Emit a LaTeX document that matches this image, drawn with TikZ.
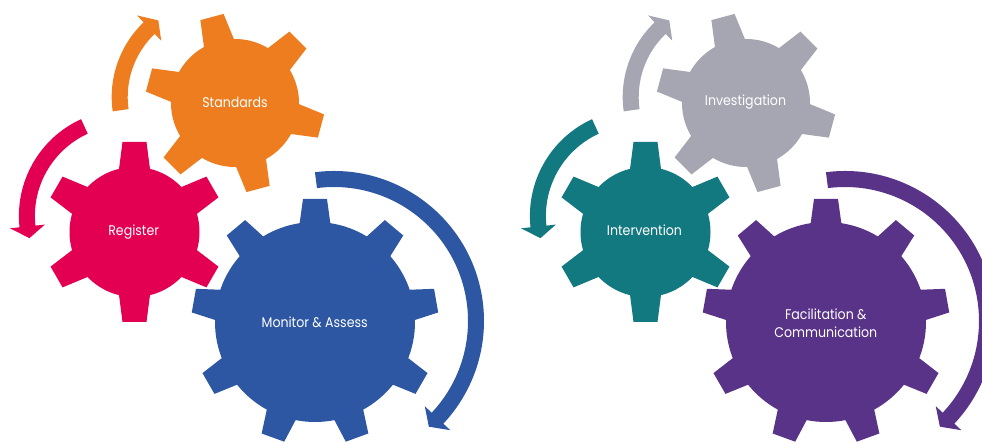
\documentclass[tikz,border=0pt]{standalone}
\usepackage{fontspec}
\setmainfont{Poppins}[FakeStretch=0.9]
\definecolor{cOrange}{HTML}{EE7D20}
\definecolor{cPink}{HTML}{E30052}
\definecolor{cBlue}{HTML}{2D57A3}
\definecolor{cGrey}{HTML}{A5A6B2}
\definecolor{cTeal}{HTML}{137980}
\definecolor{cPurple}{HTML}{593387}
\newcommand\mygear[7]{%
  \begin{scope}[shift={(#1,#2)}]
    \fill[#7] (0,0) circle[radius=#3];
    \foreach \k in {1,...,#5}{
      \pgfmathsetmacro\ang{#6+360/#5*\k}
      \fill[#7, rotate=\ang] ({#3-6},-16) -- (#4,-12) -- (#4,12) -- ({#3-6},16) -- cycle;
    }
  \end{scope}}
\newcommand\myarrow[7]{%
  \begin{scope}[shift={(#1,#2)}]
    \fill[#7] ({#4}:{#3+8}) arc[start angle=#4, end angle=#5, radius=#3+8]
      -- ({#5}:{#3+17.5}) -- ({#6}:{#3}) -- ({#5}:{#3-17.5}) -- ({#5}:{#3-8})
      arc[start angle=#5, end angle=#4, radius=#3-8] -- cycle;
  \end{scope}}
\tikzset{lbl/.style={text=white, font=\fontsize{14}{17.5}\selectfont, align=center, inner sep=0pt}}
\begin{document}
\begin{tikzpicture}[x=1pt,y=1pt]
\useasboundingbox (0,0) rectangle (982,443);
\clip (0,0) rectangle (982,443);
% left group
\mygear{235}{340}{64}{89}{6}{105}{cOrange}
\mygear{134.5}{211}{65}{90}{6}{90}{cPink}
\mygear{315}{121}{100}{123}{9}{90}{cBlue}
\myarrow{215}{346}{95.3}{188}{133.7}{126.5}{cOrange}
\myarrow{125.4}{227}{98.5}{114.6}{186.1}{193}{cPink}
\myarrow{334}{122}{142}{97.3}{-43.2}{-48.1}{cBlue}
\node[lbl] (standards) at (235,340.3) {Standards};
\node[lbl] (register) at (133.7,211) {Register};
\node[lbl] (monitor) at (314.7,120.3) {Monitor \& Assess};
% right group
\mygear{746}{340}{64}{89}{6}{105}{cGrey}
\mygear{645.5}{211}{65}{90}{6}{90}{cTeal}
\mygear{826}{121}{100}{123}{9}{90}{cPurple}
\myarrow{726}{346}{95.3}{188}{133.7}{126.5}{cGrey}
\myarrow{636.4}{227}{98.5}{114.6}{186.1}{193}{cTeal}
\myarrow{845}{122}{142}{97.3}{-43.2}{-48.1}{cPurple}
\node[lbl] (investigation) at (745.5,341.3) {Investigation};
\node[lbl] (intervention) at (644.5,213) {Intervention};
\node[lbl] (facilitation) at (825.8,120) {Facilitation \&\\Communication};
\end{tikzpicture}
\end{document}
